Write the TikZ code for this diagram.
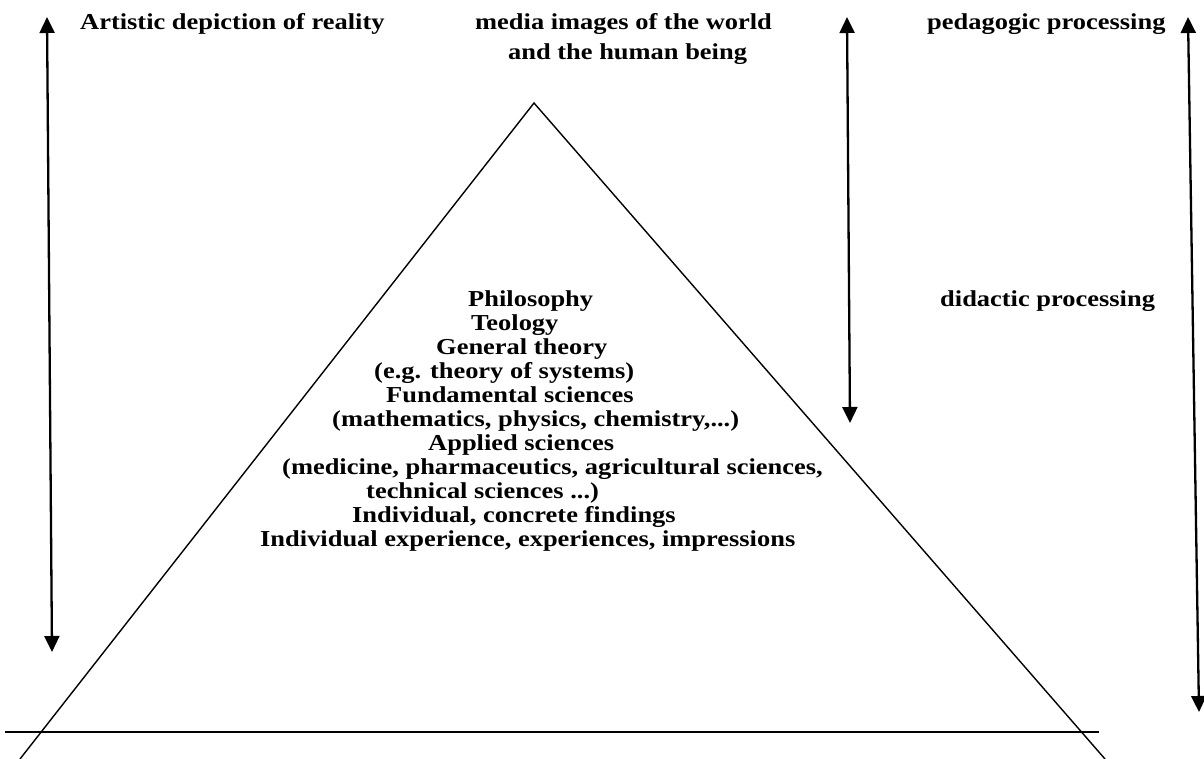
\documentclass[tikz,border=0pt]{standalone}
\usepackage{fontspec}
\setmainfont{Liberation Serif}[FakeStretch=1.16]
\usetikzlibrary{arrows.meta}
\begin{document}
\begin{tikzpicture}[x=1pt,y=-1pt,
  lbl/.style={font=\fontsize{22.8}{30}\selectfont\bfseries, inner sep=0pt, anchor=base west},
  edgeline/.style={line width=1.4pt},
  dbl/.style={line width=2.3pt, {Triangle[width=15pt,length=16pt]}-{Triangle[width=15pt,length=16pt]}}]
\useasboundingbox (0,0) rectangle (1204,759);
\fill[white] (0,0) rectangle (1204,759);
% triangle and base line
\coordinate (apex) at (534,103);
\coordinate (bl) at (20,759);
\coordinate (br) at (1105,759);
\coordinate (hl) at (5,732);
\coordinate (hr) at (1099,732);
\draw[edgeline] (bl) -- (apex) -- (br);
\draw[edgeline] (hl) -- (hr);
% double arrows
\coordinate (a1t) at (47,17);
\coordinate (a1b) at (52,652);
\coordinate (a2t) at (847,17);
\coordinate (a2b) at (850,423);
\coordinate (a3t) at (1188,17);
\coordinate (a3b) at (1199,712);
\draw[dbl] (a1t) -- (a1b);
\draw[dbl] (a2t) -- (a2b);
\draw[dbl] (a3t) -- (a3b);
% top labels
\node[lbl] (art) at (80,30) {Artistic depiction of reality};
\node[lbl] (media1) at (475,30) {media images of the world};
\node[lbl] (media2) at (508,60) {and the human being};
\node[lbl] (ped) at (927,30) {pedagogic processing};
\node[lbl] (did) at (940,306) {didactic processing};
% central text
\node[lbl] (phil) at (468,306) {Philosophy};
\node[lbl] (teol) at (471,330) {Teology};
\node[lbl] (gen) at (436,354) {General theory};
\node[lbl] (eg) at (374,378) {(e.g. theory of systems)};
\node[lbl] (fund) at (386,402) {Fundamental sciences};
\node[lbl] (math) at (332,426) {(mathematics, physics, chemistry,...)};
\node[lbl] (appl) at (428,450) {Applied sciences};
\node[lbl] (med) at (282,474) {(medicine, pharmaceutics, agricultural sciences,};
\node[lbl] (tech) at (366,498) {technical sciences ...)};
\node[lbl] (indc) at (352,522) {Individual, concrete findings};
\node[lbl] (inde) at (260,546) {Individual experience, experiences, impressions};
\end{tikzpicture}
\end{document}
